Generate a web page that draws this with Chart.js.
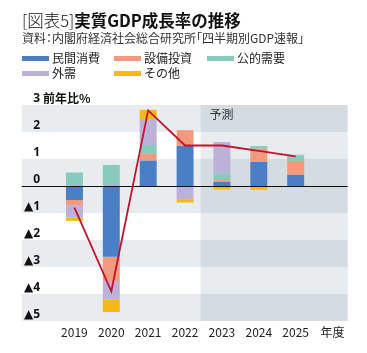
<!DOCTYPE html>
<html><head><meta charset="utf-8">
<script src="https://cdn.jsdelivr.net/npm/chart.js@4.4.1/dist/chart.umd.min.js"></script>
<style>
html,body{margin:0;padding:0;background:#fff;}
body{width:367px;height:353px;position:relative;overflow:hidden;font-family:"Noto Sans CJK JP","Noto Sans",sans-serif;}
#c{position:absolute;left:0;top:0;}
#hdr{position:absolute;left:0;top:0;width:367px;height:90px;z-index:2;pointer-events:none;}
.title{position:absolute;left:22px;top:9px;font-size:16.5px;line-height:22px;color:#111;white-space:nowrap;}
.title .lt{font-weight:300;}
.title .bd{font-weight:700;}
.sub{position:absolute;left:22px;top:30px;font-size:12px;line-height:16px;color:#333;white-space:nowrap;font-feature-settings:"palt";}
.lg{position:absolute;display:flex;align-items:center;font-size:12px;line-height:16px;height:16px;color:#222;white-space:nowrap;}
.sw{display:inline-block;width:27px;height:5px;margin-right:3px;}
</style></head>
<body>
<canvas id="c" width="367" height="353"></canvas>
<div id="hdr">
  <div class="title"><span class="lt">[図表5]</span><span class="bd">実質GDP成長率の推移</span></div>
  <div class="sub">資料：内閣府経済社会総合研究所「四半期別GDP速報」</div>
</div>
<script>
const years = ['2019','2020','2021','2022','2023','2024','2025','年度'];
const seriesNames = ['民間消費','設備投資','公的需要','外需','その他'];
const seriesColors = ['#4a7fc5','#f39a7e','#86cbbd','#bcb1d8','#f6b913'];
const privateConsumption = [-0.52,-2.62,0.94,1.49,0.15,0.89,0.41,null];
const capitalInvestment  = [-0.19,-0.90,0.25,0.58,0.07,0.49,0.52,null];
const publicDemand       = [0.50,0.78,0.33,0,0.24,0.10,0.19,null];
const externalDemand     = [-0.46,-0.68,0.93,-0.49,1.17,0,0.04,null];
const others             = [-0.12,-0.47,0.37,-0.12,-0.13,-0.14,0,null];
const gdpGrowth          = [-0.8,-3.9,2.8,1.5,1.5,1.3,1.1,null];
const yTicks = [3,2,1,0,-1,-2,-3,-4,-5];
const forecastFrom = '2023';
const lineColor = '#c8102e';

const seriesValues = [privateConsumption, capitalInvestment, publicDemand, externalDemand, others];

// HTML legend
const legendCols = [22, 114, 207];
const legendRows = [50, 65];
const hdr = document.getElementById('hdr');
seriesNames.forEach((n,i)=>{
  const d = document.createElement('div');
  d.className = 'lg';
  d.style.left = legendCols[i%3] + 'px';
  d.style.top = legendRows[Math.floor(i/3)] + 'px';
  d.innerHTML = '<span class="sw" style="background:'+seriesColors[i]+'"></span>' + n;
  hdr.appendChild(d);
});

const FONT = '"Noto Sans CJK JP", "Noto Sans", sans-serif';
const TICKFONT = '"Noto Sans", "DejaVu Sans", "Noto Sans CJK JP", sans-serif';

const bands = {
  id: 'bands',
  beforeDraw(chart){
    const {ctx, chartArea: ca, scales: {x, y}} = chart;
    const left = ca.left - 34.3, right = ca.right - 3.3;
    const fi = years.indexOf(forecastFrom);
    const fx = (x.getPixelForValue(fi-1) + x.getPixelForValue(fi)) / 2 - 3;
    ctx.save();
    for (let i = 0; i < yTicks.length - 1; i++){
      const hi = yTicks[i], lo = yTicks[i+1];
      const dark = lo >= 0 ? (lo % 2 === 0) : (lo % 2 !== 0);
      const yt = y.getPixelForValue(hi), yb = y.getPixelForValue(lo);
      ctx.fillStyle = dark ? '#e9ecef' : '#ffffff';
      ctx.fillRect(left, yt, fx - left, yb - yt);
      ctx.fillStyle = dark ? '#d4dce1' : '#e8ecef';
      ctx.fillRect(fx, yt, right - fx, yb - yt);
    }
    ctx.fillStyle = '#333';
    ctx.font = '12px ' + FONT;
    ctx.textBaseline = 'middle';
    ctx.textAlign = 'left';
    ctx.fillText('予測', fx + 9, y.getPixelForValue(yTicks[0]) + 9.5);
    ctx.fillStyle = '#111';
    ctx.font = 'bold 12px ' + FONT;
    ctx.fillText('前年比%', 43, y.getPixelForValue(yTicks[0]) - 6.5);
    ctx.restore();
  },
  beforeDatasetDraw(chart, args){
    if (chart.data.datasets[args.index].type !== 'line') return;
    const {ctx, chartArea: ca, scales: {y}} = chart;
    const left = ca.left - 34.3, right = ca.right - 3.3;
    const y0 = Math.round(y.getPixelForValue(0)) + 0.5;
    ctx.save();
    ctx.strokeStyle = '#111';
    ctx.lineWidth = 1.2;
    ctx.beginPath(); ctx.moveTo(left, y0); ctx.lineTo(right, y0); ctx.stroke();
    ctx.restore();
  }
};

const datasets = seriesNames.map((n,i)=>({
  type: 'bar',
  label: n,
  data: seriesValues[i],
  backgroundColor: seriesColors[i],
  borderWidth: 0,
  stack: 'gdp',
  order: 1,
  barPercentage: 0.92,
  categoryPercentage: 0.5
}));
datasets.push({
  type: 'line',
  label: '実質GDP',
  data: gdpGrowth,
  borderColor: lineColor,
  borderWidth: 1.8,
  pointRadius: 0,
  fill: false,
  tension: 0,
  stack: 'total',
  order: 0
});

new Chart(document.getElementById('c'), {
  data: { labels: years, datasets },
  plugins: [bands],
  options: {
    responsive: false,
    devicePixelRatio: 1,
    animation: false,
    events: [],
    layout: { padding: { top: 105, right: 16, bottom: 0, left: 0 } },
    plugins: { legend: { display: false }, tooltip: { enabled: false }, title: { display: false } },
    scales: {
      x: {
        stacked: true,
        grid: { display: false, drawTicks: false },
        border: { display: false },
        ticks: { color: '#222', font: { family: FONT, size: 12 }, padding: 4, maxRotation: 0, autoSkip: false },
        afterFit(s){ s.height = 32; }
      },
      y: {
        stacked: true,
        min: yTicks[yTicks.length-1],
        max: yTicks[0],
        grid: { display: false, drawTicks: false },
        border: { display: false },
        ticks: {
          stepSize: 1,
          padding: 16,
          labelOffset: -6.5,
          color: '#111',
          font: { family: TICKFONT, size: 12, weight: 'bold' },
          callback: v => v < 0 ? '▲' + Math.abs(v) : String(v)
        },
        afterFit(s){ s.width = 56; }
      }
    }
  }
});
</script>
</body></html>
